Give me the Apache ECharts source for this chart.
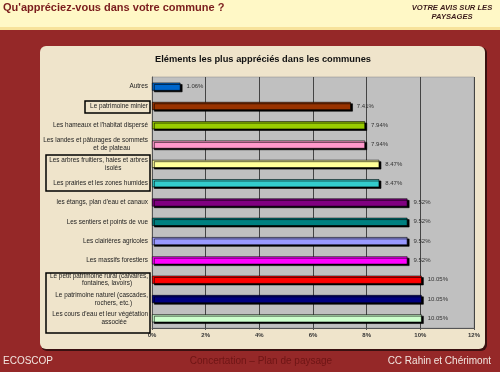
<!DOCTYPE html>
<html><head><meta charset="utf-8">
<script src="https://cdn.jsdelivr.net/npm/echarts@6/dist/echarts.min.js"></script>
<style>html,body{margin:0;padding:0;background:#952828;}#c{width:500px;height:372px;}</style>
</head><body><div id="c"></div>
<script>
const categories = [
  "Autres",
  "Le patrimoine minier",
  "Les hameaux et l'habitat dispersé",
  "Les landes et pâturages de sommets\net de plateau",
  "Les arbres fruitiers, haies et arbres\nisolés",
  "Les prairies et les zones humides",
  "les étangs, plan d'eau et canaux",
  "Les sentiers et points de vue",
  "Les clairières agricoles",
  "Les massifs forestiers",
  "Le petit patrimoine rural (calvaires,\nfontaines, lavoirs)",
  "Le patrimoine naturel (cascades,\nrochers, etc.)",
  "Les cours d'eau et leur végétation\nassociée"
];
const values = [1.06, 7.41, 7.94, 7.94, 8.47, 8.47, 9.52, 9.52, 9.52, 9.52, 10.05, 10.05, 10.05];
const barColors = ["#0066CC","#993300","#99CC00","#FF99CC","#FFFF99","#33CCCC","#800080","#008080","#9999FF","#FF00FF","#FF0000","#000080","#CCFFCC"];
const xTicks = [0, 2, 4, 6, 8, 10, 12];

const chart = echarts.init(document.getElementById('c'));
function centerLines(s){
  const parts = s.split('\n');
  if (parts.length < 2) return s;
  const d = Math.max(0, Math.round((parts[0].length - parts[1].length) / 2 * 0.95));
  return parts[0] + '\n' + parts[1] + ' '.repeat(d);
}
const F = 'Arial, "Liberation Sans", sans-serif';
chart.setOption({
  backgroundColor: '#952828',
  animation: false,
  graphic: [
    {type:'rect', shape:{x:0,y:0,width:500,height:27}, style:{fill:'#FFF8C6'}, z:-10},
    {type:'rect', shape:{x:0,y:27,width:500,height:3}, style:{fill:'#F7E29A'}, z:-10},
    {type:'rect', shape:{x:41,y:47,width:446,height:304,r:6}, style:{fill:'#3a1010'}, z:-9},
    {type:'rect', shape:{x:40,y:46,width:445,height:303,r:6}, style:{fill:'#EFE4CB'}, z:-8},
    {type:'text', x:3, y:2, style:{text:"Qu'appréciez-vous dans votre commune ?", font:'bold 11px ' + F, fill:'#7A1C1C'}},
    {type:'text', x:452, y:3, style:{text:'VOTRE AVIS SUR LES\nPAYSAGES', font:'italic bold 7.6px ' + F, fill:'#3a1a1a', align:'center', lineHeight:9.5}},
    {type:'text', x:263, y:55, style:{text:'Eléments les plus appréciés dans les communes', font:'bold 9.3px ' + F, fill:'#111', align:'center'}},
    {type:'text', x:3, y:356, style:{text:'ECOSCOP', font:'10px ' + F, fill:'#F2E6E0'}},
    {type:'text', x:261, y:356, style:{text:'Concertation – Plan de paysage', font:'10px ' + F, fill:'#6E1515', align:'center'}},
    {type:'text', x:491, y:356, style:{text:'CC Rahin et Chérimont', font:'10px ' + F, fill:'#F2E6E0', align:'right'}},
    {type:'rect', shape:{x:85,y:101,width:65,height:12}, style:{fill:'none',stroke:'#000',lineWidth:1.5}, z:10},
    {type:'rect', shape:{x:46,y:155,width:104,height:36}, style:{fill:'none',stroke:'#000',lineWidth:1.5}, z:10},
    {type:'rect', shape:{x:46,y:273,width:104,height:60}, style:{fill:'none',stroke:'#000',lineWidth:1.5}, z:10}
  ],
  grid: {left:152, right:26, top:77, bottom:44, show:true, backgroundColor:'#C0C0C0', borderColor:'#888', borderWidth:0.5},
  xAxis: {
    type:'value', min:0, max:12, interval:2,
    axisLine:{show:true, lineStyle:{color:'#555'}},
    axisTick:{show:true, length:2, lineStyle:{color:'#555'}},
    splitLine:{show:true, lineStyle:{color:'#444', width:1}},
    axisLabel:{formatter: v => xTicks.includes(v) ? v + '%' : '', fontSize:6, fontWeight:'bold', color:'#333', margin:4, fontFamily:'Arial'}
  },
  yAxis: {
    type:'category', data:categories, inverse:true,
    axisLine:{show:true, lineStyle:{color:'#555'}},
    axisTick:{show:false},
    axisLabel:{fontSize:6.4, color:'#222', margin:4, lineHeight:7.8, fontFamily:'Arial', formatter: centerLines}
  },
  series: [{
    type:'bar', data: values.map((v,i)=>({value:v, itemStyle:{color:barColors[i]}})),
    barWidth:8,
    itemStyle:{borderColor:'#000', borderWidth:0.6, shadowColor:'#000', shadowBlur:0, shadowOffsetX:2, shadowOffsetY:1.5},
    label:{show:true, position:'right', distance:6, formatter: p => p.value.toFixed(2) + '%', fontSize:6, color:'#333', fontFamily:'Arial'}
  }]
});
</script></body></html>
